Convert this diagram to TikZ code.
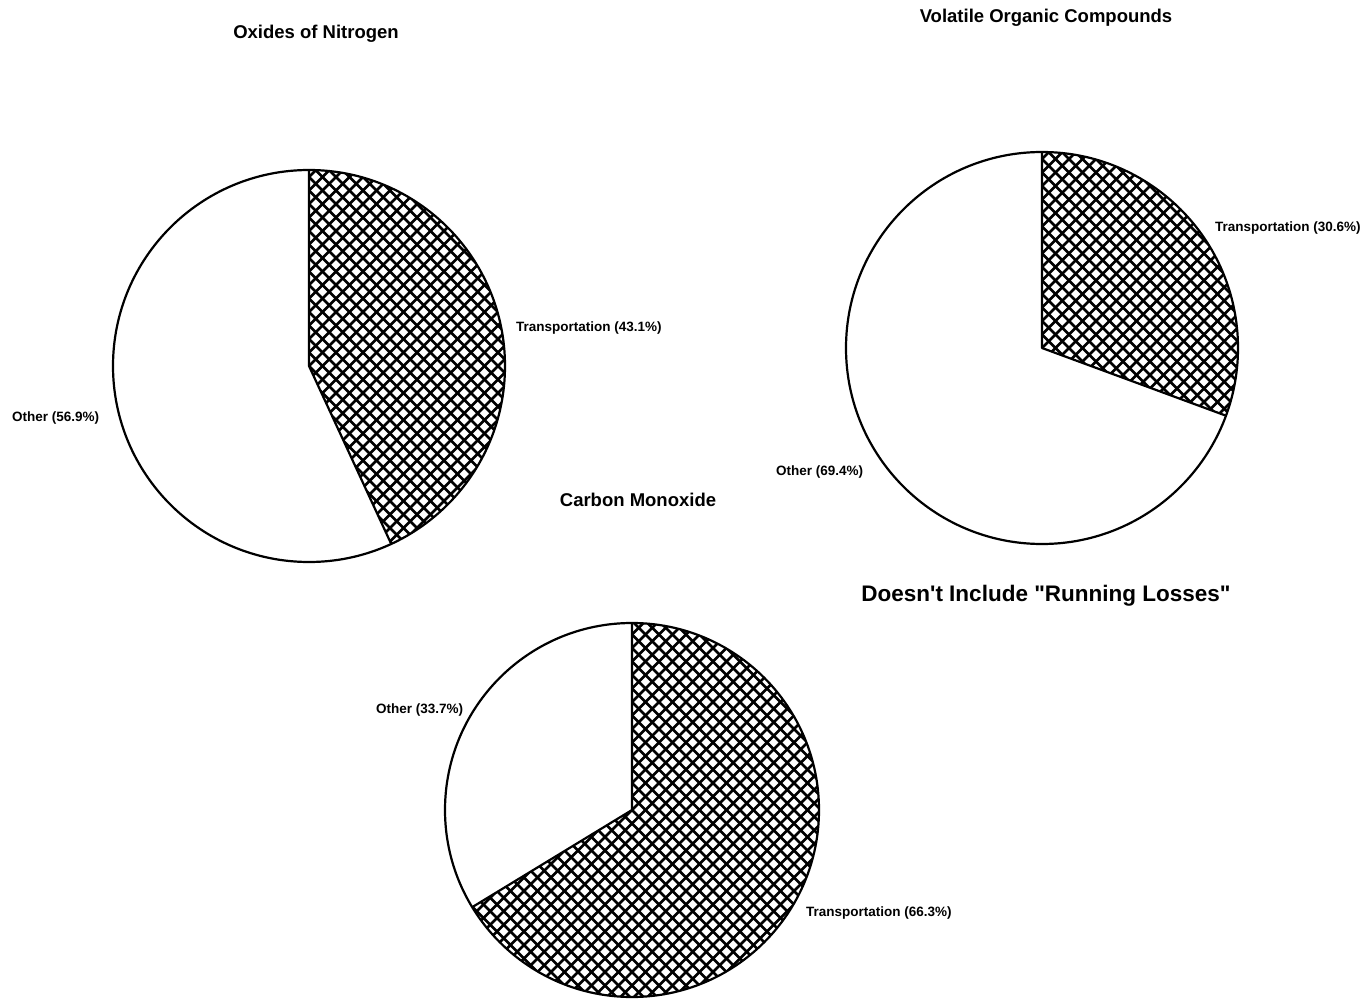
\documentclass[tikz,border=0pt]{standalone}
\usepackage{fontspec}
\setmainfont{Liberation Sans}[Ligatures=TeXOff]
\usetikzlibrary{calc}
\begin{document}
\begin{tikzpicture}[x=1pt,y=1pt,
  lbl/.style={anchor=west,inner sep=0pt,font=\fontsize{13.5}{15}\selectfont\bfseries},
  ttl/.style={anchor=center,inner sep=0pt,font=\fontsize{18.5}{21}\selectfont\bfseries},
  note/.style={anchor=center,inner sep=0pt,font=\fontsize{22.5}{26}\selectfont\bfseries},
  pieline/.style={line width=2.2pt,line join=round},
  hatchline/.style={line width=2.8pt}]
\useasboundingbox[fill=white] (0,0) rectangle (1366,-1000);
% ---------- Oxides of Nitrogen ----------
\coordinate (c1) at (309,-366);
\begin{scope}
  \clip (c1) -- ++(90:196) arc[start angle=90,end angle=-65.2,radius=196] -- cycle;
  \foreach \k in {-40,...,40} {
    \draw[hatchline] ($(c1)+(\k*13.5,0)+(-250,-250)$) -- ++(500,500);
    \draw[hatchline] ($(c1)+(\k*13.5,0)+(-250,250)$) -- ++(500,-500);
  }
\end{scope}
\draw[pieline] (c1) circle[radius=196];
\draw[pieline] ($(c1)+(90:196)$) -- (c1) -- ($(c1)+(-65.2:196)$);
\node[ttl] (t1) at (316,-34) {Oxides of Nitrogen};
\node[lbl] (l1a) at (516,-328) {Transportation (43.1\%)};
\node[lbl] (l1b) at (12,-418) {Other (56.9\%)};
% ---------- Volatile Organic Compounds ----------
\coordinate (c2) at (1042,-348);
\begin{scope}
  \clip (c2) -- ++(90:196) arc[start angle=90,end angle=-20.2,radius=196] -- cycle;
  \foreach \k in {-40,...,40} {
    \draw[hatchline] ($(c2)+(\k*13.5,0)+(-250,-250)$) -- ++(500,500);
    \draw[hatchline] ($(c2)+(\k*13.5,0)+(-250,250)$) -- ++(500,-500);
  }
\end{scope}
\draw[pieline] (c2) circle[radius=196];
\draw[pieline] ($(c2)+(90:196)$) -- (c2) -- ($(c2)+(-20.2:196)$);
\node[ttl] (t2) at (1046,-18) {Volatile Organic Compounds};
\node[lbl] (l2a) at (1215,-228) {Transportation (30.6\%)};
\node[lbl] (l2b) at (776,-472) {Other (69.4\%)};
% ---------- Carbon Monoxide ----------
\coordinate (c3) at (632,-810);
\begin{scope}
  \clip (c3) -- ++(90:187) arc[start angle=90,end angle=-148.7,radius=187] -- cycle;
  \foreach \k in {-40,...,40} {
    \draw[hatchline] ($(c3)+(\k*13.5,0)+(-250,-250)$) -- ++(500,500);
    \draw[hatchline] ($(c3)+(\k*13.5,0)+(-250,250)$) -- ++(500,-500);
  }
\end{scope}
\draw[pieline] (c3) circle[radius=187];
\draw[pieline] ($(c3)+(90:187)$) -- (c3) -- ($(c3)+(211.3:187)$);
\node[ttl] (t3) at (638,-500) {Carbon Monoxide};
\node[lbl] (l3a) at (376,-710) {Other (33.7\%)};
\node[lbl] (l3b) at (806,-913) {Transportation (66.3\%)};
% ---------- note ----------
\node[note] (n1) at (1046,-596) {Doesn't Include "Running Losses"};
\end{tikzpicture}
\end{document}
